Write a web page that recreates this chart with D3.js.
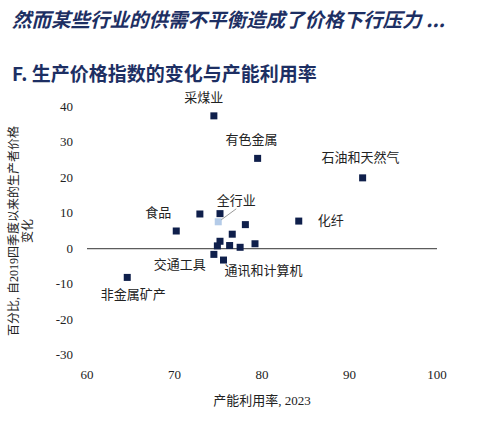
<!DOCTYPE html>
<html><head><meta charset="utf-8">
<script src="https://cdn.jsdelivr.net/npm/d3@7"></script>
<style>body{margin:0;background:#fff}</style>
</head><body><svg id="c" width="496" height="426"></svg>
<script>
var util = [74.5,79.5,91.5,72.9,75.2,78.1,84.2,70.2,76.6,75.2,76.3,77.5,79.2,74.9,74.5,75.6,64.6];
var ppi  = [37.5,25.5,20.0,9.8,9.9,6.8,7.8,5.0,4.1,2.1,0.9,0.4,1.4,0.8,-1.6,-3.2,-8.1];
var allInd = [75.0, 7.6];
var labels = [
  {t:"采煤业", x:74.5, y:37.5, dx:-10, dy:-14},
  {t:"有色金属", x:79.5, y:25.5, dx:-6, dy:-14},
  {t:"石油和天然气", x:91.5, y:20.0, dx:-2, dy:-16},
  {t:"食品", x:70.2, y:5.0, dx:-18, dy:-14},
  {t:"化纤", x:84.2, y:7.8, dx:32, dy:4},
  {t:"交通工具", x:74.5, y:-1.6, dx:-34, dy:15},
  {t:"通讯和计算机", x:75.6, y:-3.2, dx:40, dy:15},
  {t:"非金属矿产", x:64.6, y:-8.1, dx:6, dy:22}
];
var xTicks = [60,70,80,90,100], yTicks = [40,30,20,10,0,-10,-20,-30];

var svg = d3.select("#c");
var navy = "#0f1f4b";
svg.append("text").attr("x",12).attr("y",27).text("然而某些行业的供需不平衡造成了价格下行压力 ...")
  .style("font","italic bold 19.5px 'Noto Sans CJK SC'").attr("fill","#1d2f63");
svg.append("text").attr("x",12).attr("y",81).text("F. 生产价格指数的变化与产能利用率")
  .style("font","bold 19px 'Noto Sans CJK SC'").attr("fill","#1d2f63");

var x = d3.scaleLinear().domain([60,100]).range([87,437]);
var y = d3.scaleLinear().domain([-30,40]).range([355,107]);
var serif = "13px 'Liberation Serif','Noto Sans CJK SC'";

xTicks.forEach(function(v){
  svg.append("text").attr("x",x(v)).attr("y",379).attr("text-anchor","middle").text(v).style("font",serif).attr("fill","#222");
});
yTicks.forEach(function(v){
  svg.append("text").attr("x",73).attr("y",y(v)+4).attr("text-anchor","end").text(v).style("font",serif).attr("fill","#222");
});
svg.append("line").attr("x1",x(60)).attr("x2",x(100)).attr("y1",y(0)).attr("y2",y(0)).attr("stroke","#333").attr("stroke-width",1);

svg.append("text").attr("x",x(80)).attr("y",405).attr("text-anchor","middle").text("产能利用率, 2023").style("font",serif).attr("fill","#222");
var yl = svg.append("text").attr("transform","translate(18,"+y(5)+") rotate(-90)").attr("text-anchor","middle").style("font","12px 'Liberation Serif','Noto Sans CJK SC'").attr("fill","#222");
yl.append("tspan").attr("x",0).attr("dy",0).text("百分比, 自2019四季度以来的生产者价格");
yl.append("tspan").attr("x",0).attr("dy",14).text("变化");

var s = 7;
svg.selectAll("rect.p").data(util).enter().append("rect").attr("class","p")
  .attr("x",function(d){return x(d)-s/2;}).attr("y",function(d,i){return y(ppi[i])-s/2;})
  .attr("width",s).attr("height",s).attr("fill",navy);
svg.append("rect").attr("x",x(allInd[0])-s/2).attr("y",y(allInd[1])-s/2).attr("width",s).attr("height",s).attr("fill","#b4cbe8");
svg.append("line").attr("x1",x(allInd[0])+3).attr("y1",y(allInd[1])-2).attr("x2",x(allInd[0])+18).attr("y2",y(allInd[1])-13).attr("stroke","#999");
svg.append("text").attr("x",x(allInd[0])+18).attr("y",y(allInd[1])-17).attr("text-anchor","middle").text("全行业").style("font",serif).attr("fill","#222");

labels.forEach(function(l){
  svg.append("text").attr("x",x(l.x)+l.dx).attr("y",y(l.y)+l.dy).attr("text-anchor","middle").text(l.t).style("font",serif).attr("fill","#222");
});
</script></body></html>
